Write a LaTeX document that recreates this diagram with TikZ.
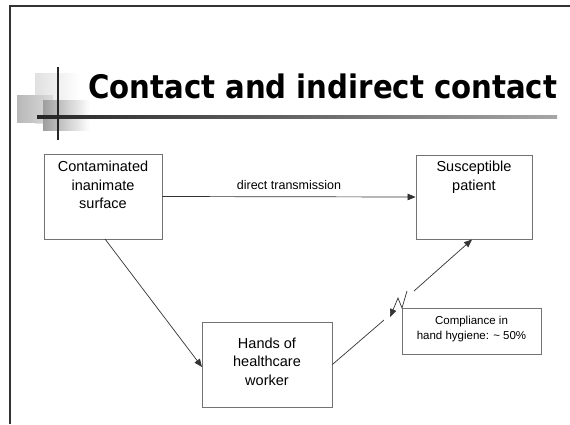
\documentclass[tikz,border=0pt]{standalone}
\usepackage{fontspec}
\setmainfont{Liberation Sans}
\newfontfamily\titlefont{DejaVu Sans Condensed}
\usetikzlibrary{arrows.meta,calc}
\tikzset{
  boxnode/.style={draw=black!55, line width=0.8pt, fill=white, inner sep=0pt},
  boxtext/.style={inner sep=0pt, align=center, font=\fontsize{14.5}{18.5}\selectfont},
  smalltext/.style={inner sep=0pt, align=center, font=\fontsize{11.5}{15}\selectfont},
  conn/.style={draw=black!80, line width=0.7pt},
  tip/.style={-{Triangle[length=8pt,width=6.5pt]}}
}
\begin{document}
\begin{tikzpicture}[x=1pt,y=-1pt]
\useasboundingbox (0,0) rectangle (570,424);
\fill[white] (0,0) rectangle (570,424);
% slide border
\draw[line width=1.6pt, black!80] (10,424) -- (10,6) -- (570,6);
% title decoration
\shade[left color=black!12, right color=white] (35,73) rectangle (80,123);
\shade[left color=black!28, right color=black!14] (17,95) rectangle (53,122);
\shade[left color=black!38, right color=white] (43,100) rectangle (90,130);
\shade[left color=black!85, right color=black!35] (37,115) rectangle (557,118);
\draw[line width=1.5pt, black!85] (58,67) -- (58,140);
% title
\node[anchor=base west, inner sep=0pt] (title) at (88,98.5)
  {\resizebox{469pt}{!}{\titlefont\bfseries Contact and indirect contact}};
% boxes
\node[boxnode, minimum width=118pt, minimum height=85pt] (cont) at (103,196.5) {};
\node[boxnode, minimum width=116pt, minimum height=84pt] (susc) at (474,197) {};
\node[boxnode, minimum width=130pt, minimum height=85pt] (hands) at (267,364.5) {};
\node[boxnode, minimum width=139pt, minimum height=46pt] (comp) at (471.5,331) {};
% texts
\node[boxtext, anchor=north] (contt) at (103,161) {Contaminated\\inanimate\\surface};
\node[boxtext, anchor=north] (susct) at (474,161) {Susceptible\\patient};
\node[boxtext, anchor=north] (handst) at (267,337.5) {Hands of\\healthcare\\worker};
\node[smalltext] (compt) at (471.5,329) {Compliance in\\hand hygiene: \textasciitilde{} 50\%};
\node[smalltext, font=\fontsize{12.5}{15}\selectfont] (dtlabel) at (289,185) {direct transmission};
% connectors
\coordinate (c1) at (105,239);
\coordinate (h1) at (202,367);
\draw[conn, tip] (cont.east) -- (susc.west);
\draw[conn, tip] (c1) -- (h1);
\coordinate (b1) at (384,320);
\coordinate (b2) at (414,291);
\coordinate (s1) at (472,239.5);
\draw[conn] (hands.east) -- (b1);
\draw[conn, tip] (b2) -- (s1);
\coordinate (z1) at (407,291);
\coordinate (z2) at (402,308);
\coordinate (z3) at (398,298);
\coordinate (z4) at (390,317);
\draw[conn, tip] (z1) -- (z2) -- (z3) -- (z4);
\end{tikzpicture}
\end{document}
